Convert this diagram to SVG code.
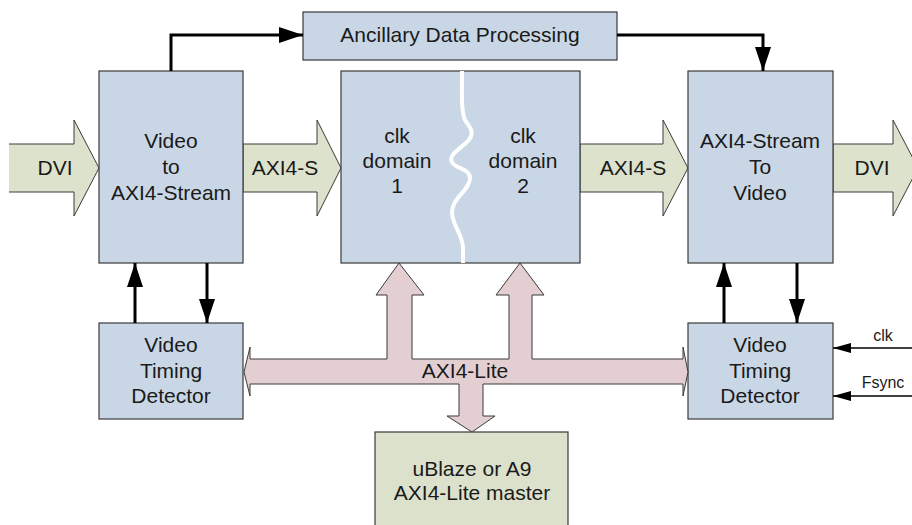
<svg xmlns="http://www.w3.org/2000/svg" width="912" height="525" viewBox="0 0 912 525">
<defs>
<style>
.box{fill:#c9d6e5;stroke:#3a3a3a;stroke-width:1.2}
.gbox{fill:#dce1cb;stroke:#3a3a3a;stroke-width:1.2}
.fat{fill:#dde2cc;stroke:#3a3a3a;stroke-width:1}
.bus{fill:#e3ced1;stroke:#3a3a3a;stroke-width:1}
.t{font-family:"Liberation Sans",Arial,sans-serif;font-size:21px;fill:#1a1a1a;text-anchor:middle}
.s{font-family:"Liberation Sans",Arial,sans-serif;font-size:16px;fill:#1a1a1a;text-anchor:middle}
.c{fill:none;stroke:#000;stroke-width:3}
.c2{fill:none;stroke:#000;stroke-width:1.3}
</style>
<marker id="ah" markerUnits="userSpaceOnUse" markerWidth="24" markerHeight="16" refX="24" refY="8" orient="auto">
<path d="M0,0 L24,8 L0,16 Z" fill="#000"/>
</marker>
<marker id="ahs" markerUnits="userSpaceOnUse" markerWidth="18" markerHeight="10" refX="18" refY="5" orient="auto">
<path d="M0,0 L18,5 L0,10 Z" fill="#000"/>
</marker>
</defs>
<rect width="912" height="525" fill="#fff"/>

<g id="dvi-in">
<polygon points="9,144 74,144 74,120 99,168 74,216 74,192 9,192" fill="#dde2cc"/>
<polyline points="9,144 74,144 74,120 99,168 74,216 74,192 9,192" fill="none" stroke="#3a3a3a" stroke-width="1"/>
<text class="t" x="55" y="175">DVI</text>
</g>

<g id="axis-1">
<polygon class="fat" points="243,144 317,144 317,120 341,168 317,216 317,192 243,192"/>
<text class="t" x="285" y="175">AXI4-S</text>
</g>

<g id="axis-2">
<polygon class="fat" points="580,144 663,144 663,120 688,168 663,216 663,192 580,192"/>
<text class="t" x="633" y="175">AXI4-S</text>
</g>

<g id="dvi-out">
<polygon class="fat" points="833,144 893,144 893,120 918,168 893,216 893,192 833,192"/>
<text class="t" x="872" y="175">DVI</text>
</g>

<g id="ancillary">
<rect class="box" x="303" y="12" width="314" height="48"/>
<text class="t" x="460" y="42">Ancillary Data Processing</text>
</g>

<g id="video-to-axi">
<rect class="box" x="99" y="71" width="144" height="192"/>
<text class="t" x="171" y="148">Video</text>
<text class="t" x="171" y="174">to</text>
<text class="t" x="171" y="200">AXI4-Stream</text>
</g>

<g id="clk-domains">
<rect class="box" x="341" y="71" width="239" height="192"/>
<path d="M462,71 C462,95 461,110 465,120 C469,127 476,132 468,141 C460,149 448,155 452,162 C455,169 470,168 470,178 C470,190 452,198 452,212 C452,226 463,234 463,248 L463,263" fill="none" stroke="#fff" stroke-width="4"/>
<text class="t" x="397" y="143">clk</text>
<text class="t" x="397" y="168">domain</text>
<text class="t" x="397" y="193">1</text>
<text class="t" x="523" y="143">clk</text>
<text class="t" x="523" y="168">domain</text>
<text class="t" x="523" y="193">2</text>
</g>

<g id="axi-to-video">
<rect class="box" x="688" y="71" width="145" height="192"/>
<text class="t" x="760" y="148">AXI4-Stream</text>
<text class="t" x="760" y="174">To</text>
<text class="t" x="760" y="200">Video</text>
</g>

<g id="vtd-left">
<rect class="box" x="99" y="323" width="144" height="96"/>
<text class="t" x="171" y="352">Video</text>
<text class="t" x="171" y="378">Timing</text>
<text class="t" x="171" y="403">Detector</text>
</g>

<g id="vtd-right">
<rect class="box" x="688" y="323" width="145" height="96"/>
<text class="t" x="760" y="352">Video</text>
<text class="t" x="760" y="378">Timing</text>
<text class="t" x="760" y="403">Detector</text>
</g>

<g id="master">
<rect class="gbox" x="375" y="432" width="193" height="100"/>
<text class="t" x="472" y="476">uBlaze or A9</text>
<text class="t" x="472" y="500">AXI4-Lite master</text>
</g>

<g id="axi-lite-bus">
<polygon class="bus" points="244,372 250,347 250,359 387,359 387,295 376,295 399,263 424,295 412,295 412,359 509,359 509,295 496,295 520,263 544,295 532,295 532,359 683,359 683,347 688,372 683,396 683,384 483,384 483,416 495,416 472,432 447,416 459,416 459,384 250,384 250,396"/>
<text class="t" x="465" y="378">AXI4-Lite</text>
</g>

<g id="connectors">
<path class="c" d="M171,71 V35 H303" marker-end="url(#ah)"/>
<path class="c" d="M617,35 H763 V71" marker-end="url(#ah)"/>
<path class="c" d="M135,323 V263" marker-end="url(#ah)"/>
<path class="c" d="M207,263 V323" marker-end="url(#ah)"/>
<path class="c" d="M724,323 V263" marker-end="url(#ah)"/>
<path class="c" d="M797,263 V323" marker-end="url(#ah)"/>
<path class="c2" d="M912,348 H833" marker-end="url(#ahs)"/>
<path class="c2" d="M912,396 H833" marker-end="url(#ahs)"/>
<text class="s" x="883" y="341">clk</text>
<text class="s" x="883" y="388">Fsync</text>
</g>
</svg>
